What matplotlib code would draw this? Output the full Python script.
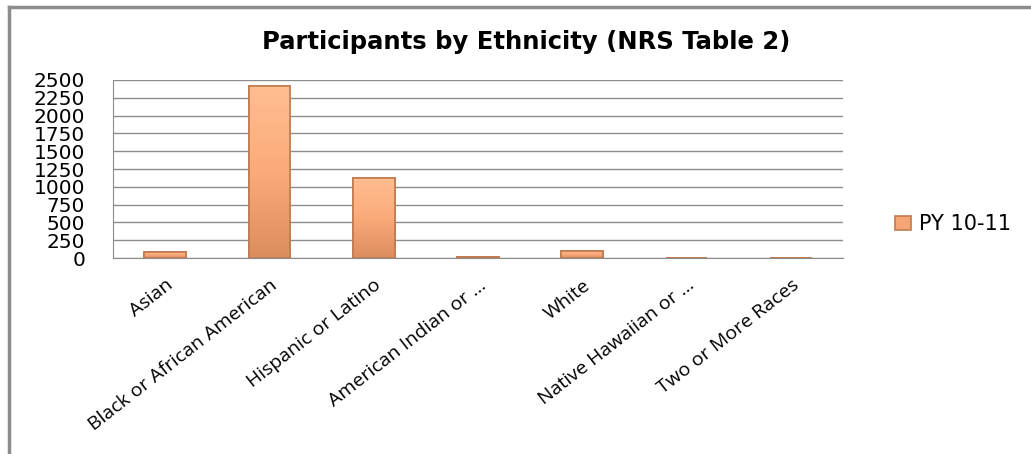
import matplotlib.pyplot as plt
from matplotlib.lines import Line2D
from matplotlib.colors import LinearSegmentedColormap
import numpy as np

categories = ["Asian", "Black or African American", "Hispanic or Latino",
              "American Indian or ...", "White", "Native Hawaiian or ...",
              "Two or More Races"]
py_10_11 = [90, 2410, 1130, 8, 105, 5, 6]
y_ticks = [0, 250, 500, 750, 1000, 1250, 1500, 1750, 2000, 2250, 2500]

fig = plt.figure(figsize=(10.31, 4.54), dpi=100)
ax = fig.add_axes([0.1096, 0.4317, 0.7081, 0.3921])

x = np.arange(len(categories))
bars = ax.bar(x, py_10_11, width=0.4, color="#F6A676", edgecolor="#C07A4F",
              linewidth=1.2, label="PY 10-11", zorder=3)

# vertical shading inside each bar, like the original's bevelled look
shade = LinearSegmentedColormap.from_list("shade", ["#DD8E5E", "#FBAA7A", "#FFBE90"])
grad = np.linspace(0, 1, 64).reshape(-1, 1)
for b in bars:
    bx, by = b.get_x(), b.get_y()
    im = ax.imshow(grad, cmap=shade, origin="lower", aspect="auto", zorder=3.5,
                   extent=[bx, bx + b.get_width(), by, by + b.get_height()])
    im.set_clip_path(b)
    ax.add_patch(plt.Rectangle((bx, by), b.get_width(), b.get_height(),
                               fill=False, edgecolor="#C07A4F", lw=1.2, zorder=4))

ax.set_xlim(-0.5, len(categories) - 0.5)
ax.set_ylim(0, 2500)
ax.set_yticks(y_ticks)
ax.set_yticklabels([str(v) for v in y_ticks], fontsize=14.5, family="DejaVu Sans")
ax.set_xticks(x)
ax.set_xticklabels(categories, rotation=38, ha="right", rotation_mode="anchor",
                   fontsize=14, family="Open Sans")
ax.tick_params(axis="x", length=0, pad=13)
ax.tick_params(axis="y", length=0, pad=20)

ax.grid(axis="y", color="#8c8c8c", linewidth=1, zorder=0)
for side in ["top", "right"]:
    ax.spines[side].set_visible(False)
ax.spines["left"].set_color("#8c8c8c")
ax.spines["bottom"].set_color("#8c8c8c")

fig.text(0.51, 0.907, "Participants by Ethnicity (NRS Table 2)", ha="center",
         va="center", fontsize=17.5, fontweight="bold")

ax.legend(loc="center left", bbox_to_anchor=(1.045, 0.19), frameon=False,
          prop={"family": "DejaVu Sans", "size": 15},
          handlelength=0.8, handleheight=0.7, handletextpad=0.35)

# chart border (top and left visible)
fig.add_artist(Line2D([0.0085, 1.0], [0.985, 0.985], color="#8c8c8c", lw=2.5,
                      transform=fig.transFigure))
fig.add_artist(Line2D([0.0085, 0.0085], [0.0, 0.985], color="#8c8c8c", lw=2.5,
                      transform=fig.transFigure))

plt.savefig("out.png", dpi=100)
